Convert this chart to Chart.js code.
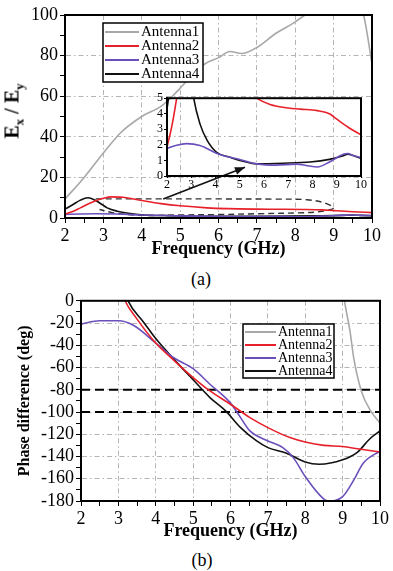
<!DOCTYPE html>
<html>
<head>
<meta charset="utf-8">
<script src="https://cdn.jsdelivr.net/npm/chart.js@4.4.0/dist/chart.umd.min.js"></script>
<style>
  html, body { margin: 0; padding: 0; background: #fff; }
  #wrap { position: relative; width: 393px; height: 571px; overflow: hidden;
          font-family: 'Liberation Serif', 'Times New Roman', serif; color: #000; }
  canvas { position: absolute; }
  #chartA { left: 0; top: 0; }
  #inset { left: 150px; top: 90px; }
  #chartB { left: 0; top: 288px; }
  .ytitle { position: absolute; white-space: nowrap; font-weight: bold; font-size: 20px;
            transform: translate(-50%, -50%) rotate(-90deg); }
  .ytitle sub { font-size: 13px; }
  .cap { position: absolute; font-size: 18px; transform: translate(-50%, -50%); }
</style>
</head>
<body>
<div id="wrap">
  <canvas id="chartA" width="393" height="258"></canvas>
  <canvas id="inset" width="220" height="100"></canvas>
  <div class="ytitle" style="left:14px; top:111px;">E<sub>x</sub> / E<sub>y</sub></div>
  <div class="cap" style="left:201px; top:279px;">(a)</div>
  <canvas id="chartB" width="393" height="252"></canvas>
  <div class="cap" style="left:202px; top:560px;">(b)</div>
</div>
<script>
'use strict';

// ---- (a) axial ratio Ex/Ey ----
var a1Freq = [2, 2.5, 3, 3.45, 4, 4.5, 4.8, 5.0, 5.3, 5.65, 6.0, 6.3, 6.6, 7.0, 7.5, 7.95, 8.25, 8.7, 9.2, 9.6, 9.78, 10];
var a1Ratio = [9.4, 20, 32, 42, 50, 55, 60, 64, 70, 76, 79, 82, 81, 84, 91, 96, 100, 106, 110, 106, 100, 76];
var a2Freq = [2, 2.2, 2.4, 2.6, 2.8, 3.0, 3.2, 3.5, 4.0, 4.5, 5.0, 5.7, 6.25, 7.0, 7.5, 8.2, 8.7, 9.0, 9.5, 10];
var a2Ratio = [1.85, 3.2, 5.0, 6.9, 8.5, 9.7, 10.4, 10.2, 8.6, 7.1, 6.0, 5.0, 4.6, 4.37, 4.3, 4.2, 4.0, 3.65, 3.1, 2.65];
var a3Freq = [2, 2.4, 2.8, 3.36, 4.06, 4.6, 5.0, 5.7, 6.5, 7.35, 7.8, 8.2, 8.7, 9.27, 9.45, 9.7, 10];
var a3Ratio = [1.77, 1.98, 2.08, 1.96, 1.45, 1.2, 1.06, 0.78, 0.7, 0.76, 0.66, 0.58, 0.9, 1.4, 1.45, 1.3, 1.18];
var a4Freq = [2, 2.2, 2.4, 2.6, 2.8, 3.0, 3.1, 3.36, 3.65, 4.06, 4.6, 5.0, 5.7, 6.8, 7.9, 8.7, 9.27, 9.45, 9.7, 10];
var a4Ratio = [4.3, 6.5, 8.8, 10.0, 8.6, 6.2, 5.0, 3.35, 2.3, 1.5, 1.2, 1.0, 0.78, 0.82, 0.9, 1.07, 1.3, 1.4, 1.3, 1.12];

// dashed outline of the zoomed region and the arrow pointing to the inset
var zoomFreq = [2.8, 4.5, 6.0, 7.5, 8.3, 8.75, 9.0, 8.7, 8.2, 7.0, 6.0, 5.0, 4.0, 3.3, 2.9];
var zoomRatio = [9.4, 9.4, 9.4, 9.3, 9.0, 7.5, 5.0, 3.3, 2.6, 2.1, 1.7, 1.5, 1.3, 2.4, 4.2];
var arrowFreq = [4.56, 6.69];
var arrowRatio = [9.4, 25];

// ---- (b) phase difference ----
var b1Freq = [9.0, 9.05, 9.2, 9.3, 9.5, 9.75, 10];
var b1Phase = [12, 0, -28, -52, -81, -99, -110];
var b2Freq = [3.1, 3.18, 3.49, 4.0, 4.5, 5.0, 5.45, 6.0, 6.52, 7.0, 7.59, 8.0, 8.5, 9.0, 9.4, 10];
var b2Phase = [8, 0, -16, -38, -54, -69, -81, -93, -105, -114, -123, -127, -130, -131, -133, -136];
var b3Freq = [2, 2.5, 3.0, 3.4, 4.0, 4.47, 5.0, 5.45, 6.0, 6.27, 6.52, 7.0, 7.4, 7.68, 8.0, 8.37, 8.6, 9.0, 9.3, 9.55, 10];
var b3Phase = [-21, -18, -18, -22, -38, -51, -61, -75, -92, -105, -117, -126, -132, -141, -158, -174, -180, -176, -161, -146, -135];
var b4Freq = [3.2, 3.26, 3.67, 4.0, 4.47, 5.0, 5.45, 5.87, 6.27, 6.7, 7.0, 7.5, 8.0, 8.37, 9.0, 9.4, 9.73, 10];
var b4Phase = [6, 0, -19, -34, -52, -71, -87, -99, -114, -126, -132, -137, -145, -147, -143, -136, -124, -117];
var refLevels = [-80, -100];

var names = ['Antenna1', 'Antenna2', 'Antenna3', 'Antenna4'];
var colors = ['#a8a8a8', '#e8202a', '#6b4fbb', '#111111'];

var SERIF = "'Liberation Serif', 'Times New Roman', serif";
var GRID = '#b4b4b4';

function pts(xs, ys) {
  return xs.map(function (x, i) { return { x: x, y: ys[i] }; });
}

function curve(i, xs, ys) {
  return {
    label: names[i], data: pts(xs, ys), borderColor: colors[i], borderWidth: 1.6,
    pointRadius: 0, fill: false, cubicInterpolationMode: 'monotone', inLegend: true
  };
}

// major grid lines only, minor ticks without grid
function gridEvery(step) {
  return function (c) {
    if (!c.tick) return 'rgba(0,0,0,0)';
    return Math.abs(c.tick.value % step) < 1e-6 ? GRID : 'rgba(0,0,0,0)';
  };
}
function labelEvery(step) {
  return function (v) { return Math.abs(v % step) < 1e-6 ? v : ''; };
}

function axis(min, max, step, major, size, extra) {
  var o = {
    type: 'linear', min: min, max: max,
    ticks: { stepSize: step, autoSkip: false, maxRotation: 0, padding: 2, color: '#000',
             font: { family: SERIF, size: size }, callback: labelEvery(major) },
    grid: { color: gridEvery(major), tickColor: '#000', tickLength: 5, lineWidth: 1 },
    border: { display: true, color: '#000', width: 2, dash: [5, 3, 1.5, 3] }
  };
  for (var k in extra) o[k] = extra[k];
  return o;
}

var framePlugin = {
  id: 'frame',
  afterDatasetsDraw: function (chart, args, opts) {
    var a = chart.chartArea, ctx = chart.ctx;
    ctx.save();
    ctx.strokeStyle = '#000';
    ctx.lineWidth = opts.width || 2;
    ctx.strokeRect(a.left, a.top, a.right - a.left, a.bottom - a.top);
    ctx.restore();
  }
};

var arrowPlugin = {
  id: 'arrowHead',
  afterDatasetsDraw: function (chart) {
    var ctx = chart.ctx;
    chart.data.datasets.forEach(function (ds, i) {
      if (!ds.arrowHead) return;
      var el = chart.getDatasetMeta(i).data;
      var p0 = el[el.length - 2], p1 = el[el.length - 1];
      var ang = Math.atan2(p1.y - p0.y, p1.x - p0.x);
      ctx.save();
      ctx.translate(p1.x, p1.y);
      ctx.rotate(ang);
      ctx.fillStyle = ds.borderColor;
      ctx.beginPath();
      ctx.moveTo(0, 0);
      ctx.lineTo(-10, -4);
      ctx.lineTo(-10, 4);
      ctx.closePath();
      ctx.fill();
      ctx.restore();
    });
  }
};

var boxLegendPlugin = {
  id: 'boxLegend',
  afterDraw: function (chart, args, o) {
    if (!o || !o.show) return;
    var ctx = chart.ctx;
    var items = chart.data.datasets.filter(function (d) { return d.inLegend; });
    ctx.save();
    ctx.fillStyle = '#fff';
    ctx.fillRect(o.x, o.y, o.w, o.h);
    ctx.strokeStyle = '#000';
    ctx.lineWidth = 1.5;
    ctx.strokeRect(o.x, o.y, o.w, o.h);
    ctx.font = o.size + 'px ' + SERIF;
    ctx.textBaseline = 'middle';
    items.forEach(function (d, i) {
      var y = o.y + o.first + i * o.row;
      ctx.strokeStyle = d.borderColor;
      ctx.lineWidth = 2;
      ctx.beginPath();
      ctx.moveTo(o.x + 2, y);
      ctx.lineTo(o.x + 2 + o.line, y);
      ctx.stroke();
      ctx.fillStyle = '#000';
      ctx.fillText(d.label, o.x + o.line + 4, y);
    });
    ctx.restore();
  }
};

var chart_a_settings = {
  type: 'line',
  data: {
    datasets: [
      curve(0, a1Freq, a1Ratio),
      curve(1, a2Freq, a2Ratio),
      curve(2, a3Freq, a3Ratio),
      curve(3, a4Freq, a4Ratio),
      { label: 'zoom', data: pts(zoomFreq, zoomRatio), borderColor: '#333', borderWidth: 1.4,
        borderDash: [6, 4], pointRadius: 0, tension: 0.35, fill: false },
      { label: 'arrow', data: pts(arrowFreq, arrowRatio), borderColor: '#111', borderWidth: 1.6,
        pointRadius: 0, fill: false, arrowHead: true }
    ]
  },
  options: {
    responsive: false, animation: false, events: [],
    layout: { padding: { left: 0, right: 21, top: 15, bottom: 0 } },
    plugins: {
      legend: { display: false }, tooltip: { enabled: false },
      frame: { width: 2 },
      boxLegend: { show: true, x: 103, y: 23, w: 100, h: 59, first: 9, row: 14, line: 34, size: 15 }
    },
    scales: {
      x: axis(2, 10, 0.5, 1, 18, {
        title: { display: true, text: 'Frequency (GHz)', color: '#000',
                 font: { family: SERIF, size: 18, weight: 'bold', lineHeight: 1 },
                 padding: { top: 0, bottom: 0 } },
        afterFit: function (s) { s.height = 40; }
      }),
      y: axis(0, 100, 10, 20, 18, { afterFit: function (s) { s.width = 65; } })
    }
  },
  plugins: [framePlugin, arrowPlugin, boxLegendPlugin]
};

var insetX = axis(2, 10, 1, 1, 12, { afterFit: function (s) { s.height = 14; } });
insetX.grid = { drawOnChartArea: false, tickColor: '#000', tickLength: 2 };
insetX.ticks.padding = 0;
var insetY = axis(0, 5, 1, 1, 12, { afterFit: function (s) { s.width = 17; } });
insetY.grid = { drawOnChartArea: false, tickColor: '#000', tickLength: 3 };
insetY.ticks.padding = 1;

var inset_settings = {
  type: 'line',
  data: {
    datasets: [
      curve(1, a2Freq, a2Ratio),
      curve(2, a3Freq, a3Ratio),
      curve(3, a4Freq, a4Ratio)
    ]
  },
  options: {
    responsive: false, animation: false, events: [],
    layout: { padding: { left: 0, right: 9, top: 7, bottom: 0 } },
    plugins: { legend: { display: false }, tooltip: { enabled: false }, frame: { width: 2 } },
    scales: { x: insetX, y: insetY }
  },
  plugins: [framePlugin]
};

var refSets = refLevels.map(function (lv) {
  return { label: 'ref', data: pts([2, 10], [lv, lv]), borderColor: '#000', borderWidth: 2,
           borderDash: [9, 5], pointRadius: 0, fill: false };
});

var chart_b_settings = {
  type: 'line',
  data: {
    datasets: [
      curve(0, b1Freq, b1Phase),
      curve(1, b2Freq, b2Phase),
      curve(2, b3Freq, b3Phase),
      curve(3, b4Freq, b4Phase)
    ].concat(refSets)
  },
  options: {
    responsive: false, animation: false, events: [],
    layout: { padding: { left: 0, right: 13, top: 11, bottom: 0 } },
    plugins: {
      legend: { display: false }, tooltip: { enabled: false },
      frame: { width: 2 },
      boxLegend: { show: true, x: 243, y: 36, w: 91, h: 54, first: 8, row: 13, line: 31, size: 14 }
    },
    scales: {
      x: axis(2, 10, 0.5, 1, 18, {
        title: { display: true, text: 'Frequency (GHz)', color: '#000',
                 font: { family: SERIF, size: 18, weight: 'bold', lineHeight: 1 },
                 padding: { top: 0, bottom: 0 } },
        afterFit: function (s) { s.height = 39; }
      }),
      y: axis(-180, 0, 10, 20, 18, {
        title: { display: true, text: 'Phase difference (deg)', color: '#000',
                 font: { family: SERIF, size: 16, weight: 'bold', lineHeight: 1 },
                 padding: { top: 17, bottom: 0 } },
        afterFit: function (s) { s.width = 81; }
      })
    }
  },
  plugins: [framePlugin, boxLegendPlugin]
};

new Chart(document.getElementById('chartA'), chart_a_settings);
new Chart(document.getElementById('inset'), inset_settings);
new Chart(document.getElementById('chartB'), chart_b_settings);
</script>
</body>
</html>
